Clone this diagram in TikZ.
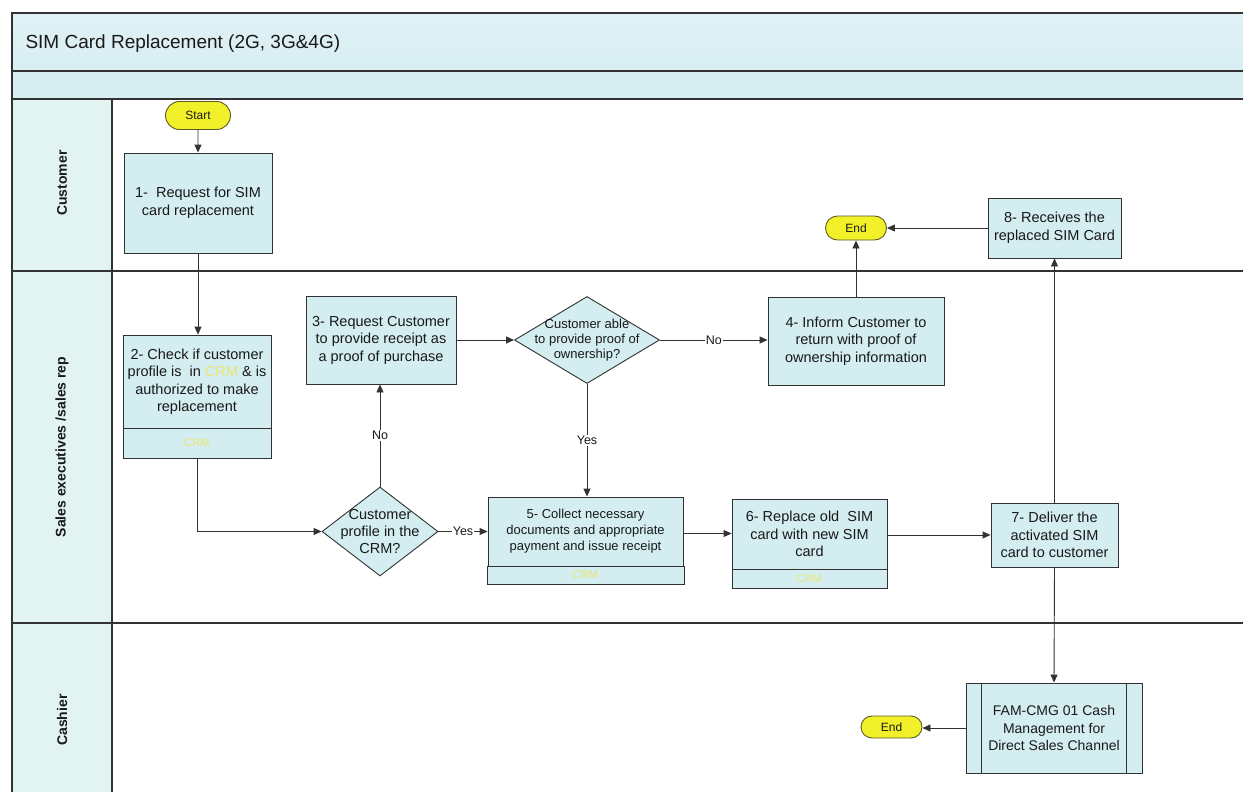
\documentclass[tikz,border=0pt]{standalone}
\usepackage{fontspec}
\setmainfont{Liberation Sans}
\usetikzlibrary{shapes.geometric,shapes.misc,arrows.meta}

\definecolor{boxfill}{RGB}{212,237,240}
\definecolor{lanefill}{RGB}{226,244,241}
\definecolor{bandfill}{RGB}{216,238,243}
\definecolor{termfill}{RGB}{242,240,40}
\definecolor{termline}{RGB}{90,90,40}
\definecolor{linec}{RGB}{50,50,50}
\definecolor{txtc}{RGB}{25,25,25}
\definecolor{crmc}{RGB}{232,230,110}

\tikzset{
  proc/.style={draw=linec, fill=boxfill, line width=0.9pt, inner sep=2pt,
    align=center, text=txtc, font=\fontsize{14.5}{17.5}\selectfont},
  foot/.style={draw=linec, fill=boxfill, line width=0.9pt, inner sep=0pt,
    text=crmc, font=\fontsize{11}{13}\selectfont},
  decision/.style={diamond, draw=linec, fill=boxfill, line width=0.9pt, inner sep=0pt},
  dtext/.style={align=center, inner sep=0pt, text=txtc, font=\fontsize{14.5}{17}\selectfont},
  term/.style={rounded rectangle, draw=termline, fill=termfill, line width=0.9pt,
    inner sep=0pt, text=txtc, font=\fontsize{12}{13}\selectfont},
  lanelabel/.style={rotate=90, text=txtc, font=\fontsize{14}{16}\selectfont\bfseries},
  edgelabel/.style={fill=white, inner sep=1pt, text=txtc, font=\fontsize{12.5}{14}\selectfont},
  flow/.style={draw=linec, line width=0.9pt, -{Triangle[length=8pt,width=7pt]}},
  laneline/.style={draw=linec, line width=1.2pt}
}

\begin{document}
\begin{tikzpicture}[x=1pt,y=-1pt]
\useasboundingbox (0,0) rectangle (1243,792);
\clip (0,0) rectangle (1243,792);
\fill[white] (0,0) rectangle (1243,792);

% header bands
\shade[top color=bandfill!80!white, bottom color=bandfill] (12,13) rectangle (1260,71);
\fill[bandfill] (12,71) rectangle (1260,99);
\node[anchor=west, text=txtc, font=\fontsize{19}{22}\selectfont] (title) at (22,44) {SIM Card Replacement (2G, 3G\&4G)};

% lane label column
\fill[lanefill] (12,99) rectangle (112,800);

% pool frame and lane separators
\draw[laneline] (1260,13) -- (12,13) -- (12,800);
\draw[laneline] (12,71) -- (1260,71);
\draw[laneline] (12,99) -- (1260,99);
\draw[laneline] (112,99) -- (112,800);
\draw[laneline] (12,271) -- (1260,271);
\draw[laneline] (12,623) -- (1260,623);

\node[lanelabel] (lcust) at (62,183) {Customer};
\node[lanelabel] (lsales) at (62,447) {Sales executives /sales rep};
\node[lanelabel] (lcash) at (62,720) {Cashier};

% terminals
\node[term, minimum width=65, minimum height=28] (start) at (198,115.5) {Start};
\node[term, minimum width=61, minimum height=24] (end1) at (856,228) {End};
\node[term, minimum width=61, minimum height=22] (end2) at (891.5,727) {End};

% process steps
\node[proc, minimum width=148, minimum height=100] (b1) at (198,203)
  {1-\ \ Request for SIM\\card replacement};
\node[proc, minimum width=148, minimum height=93] (b2) at (197,381.5)
  {2- Check if customer\\profile is\ \ in \textcolor{crmc}{CRM} \& is\\authorized to make\\replacement};
\node[foot, minimum width=148, minimum height=30] (b2f) at (197,443) {CRM};
\node[proc, minimum width=150, minimum height=88] (b3) at (381,340)
  {3- Request Customer\\to provide receipt as\\a proof of purchase};
\node[proc, minimum width=176, minimum height=88] (b4) at (856,341)
  {4- Inform Customer to\\return with proof of\\ownership information};
\node[proc, minimum width=195, minimum height=69, font=\fontsize{13}{16}\selectfont] (b5) at (585.5,531.5)
  {5- Collect necessary\\documents and appropriate\\payment and issue receipt};
\node[foot, minimum width=197, minimum height=18] (b5f) at (585.5,575) {CRM};
\node[proc, minimum width=155, minimum height=70] (b6) at (809.5,534)
  {6- Replace old\ \ SIM\\card with new SIM\\card};
\node[foot, minimum width=155, minimum height=19] (b6f) at (809.5,578.5) {CRM};
\node[proc, minimum width=127, minimum height=64] (b7) at (1054.5,535)
  {7- Deliver the\\activated SIM\\card to customer};
\node[proc, minimum width=133, minimum height=60] (b8) at (1054.5,228)
  {8- Receives the\\replaced SIM Card};
\node[proc, minimum width=176, minimum height=90, font=\fontsize{14}{17.5}\selectfont] (fam) at (1054,728)
  {FAM-CMG 01 Cash\\Management for\\Direct Sales Channel};
\draw[draw=linec, line width=0.9pt] ([xshift=16pt]fam.north west) -- ([xshift=16pt]fam.south west);
\draw[draw=linec, line width=0.9pt] ([xshift=-16pt]fam.north east) -- ([xshift=-16pt]fam.south east);

% decisions: fixed-size diamonds with their questions set on top
\node[decision, minimum width=145, minimum height=87] (d1) at (587,340) {};
\node[dtext, font=\fontsize{13}{15}\selectfont] (d1t) at (d1.center)
  {Customer able\\to provide proof of\\ownership?};
\node[decision, minimum width=116, minimum height=89] (d2) at (380,531.5) {};
\node[dtext] (d2t) at (d2.center)
  {Customer\\profile in the\\CRM?};

% connectors
\draw[flow] (start) -- (b1);
\draw[flow] (b1.south) -- (b1.south |- b2.north);
\draw[flow] (b2f.south) |- (d2.west);
\draw[flow] (d2.north) -- node[edgelabel] (lno1) {No} (d2.north |- b3.south);
\draw[flow] (d2.east) -- node[edgelabel] (lyes1) {Yes} (b5.west);
\draw[flow] (b3.east) -- (b3.east -| d1.west);
\draw[flow] (d1.east) -- node[edgelabel] (lno2) {No} (d1.east -| b4.west);
\draw[flow] (d1.south) -- node[edgelabel] (lyes2) {Yes} (d1.south |- b5.north);
\draw[flow] (b4.north) -- (end1.south);
\draw[flow] (b8.west) -- (end1.east);
\draw[flow] ([yshift=-2pt]b5.east) -- ([yshift=-2pt]b5.east -| b6.west);
\draw[flow] (b6.east |- b7.west) -- (b7.west);
\draw[flow] (b7.north) -- (b8.south);
\draw[flow] (b7.south) -- (fam.north);
\draw[flow] (fam.west) -- (fam.west -| end2.east);
\end{tikzpicture}
\end{document}
